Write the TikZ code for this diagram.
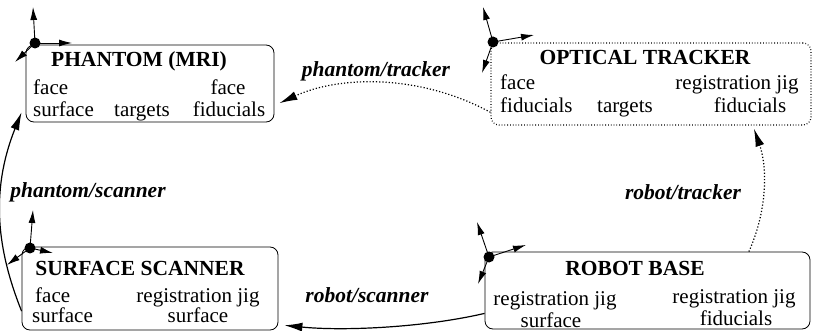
\documentclass[tikz,border=0pt]{standalone}
\usepackage{fontspec}
\setmainfont{Liberation Serif}
\usetikzlibrary{arrows.meta}
\begin{document}
\begin{tikzpicture}[x=1pt,y=-1pt,
  every node/.style={font=\fontsize{21}{24}\selectfont,inner sep=0pt},
  box/.style={draw,line width=0.8pt,rounded corners=8pt},
  txt/.style={anchor=base},
  ttl/.style={font=\fontsize{21.5}{24}\selectfont\bfseries,anchor=base},
  lbl/.style={font=\fontsize{21.5}{24}\selectfont\bfseries\itshape,anchor=base},
  conn/.style={line width=1.2pt,-{Latex[length=18pt,width=9pt]}},
  axis/.style={line width=0.9pt,-{Latex[length=13pt,width=7pt]}},
  org/.style={circle,fill,inner sep=0pt,minimum size=11pt}]
\useasboundingbox (0,0) rectangle (814,331);
% Phantom
\node[box,minimum width=248pt,minimum height=77pt] (ph) at (150,83.5) {};
\node[ttl] (phT) at (139,67) {PHANTOM (MRI)};
\node[txt,anchor=base west] (ph1) at (33,95) {face};
\node[txt,anchor=base west] (ph2) at (33,117) {surface};
\node[txt] (ph3) at (142,117) {targets};
\node[txt] (ph4) at (228,95) {face};
\node[txt] (ph5) at (229,117) {fiducials};
% Optical tracker
\node[box,dotted,line width=1.1pt,minimum width=320pt,minimum height=82pt] (tr) at (651,84) {};
\node[ttl] (trT) at (645,65) {OPTICAL TRACKER};
\node[txt,anchor=base west] (tr1) at (500,90) {face};
\node[txt,anchor=base west] (tr2) at (500,113) {fiducials};
\node[txt] (tr3) at (625,113) {targets};
\node[txt] (tr4) at (737,90) {registration jig};
\node[txt] (tr5) at (750,113) {fiducials};
% Surface scanner
\node[box,minimum width=256pt,minimum height=83pt] (sc) at (150,288.5) {};
\node[ttl] (scT) at (140,275) {SURFACE SCANNER};
\node[txt,anchor=base west] (sc1) at (35,302) {face};
\node[txt,anchor=base west] (sc2) at (32,322) {surface};
\node[txt] (sc3) at (198,302) {registration jig};
\node[txt] (sc4) at (198,322) {surface};
% Robot base
\node[box,minimum width=325pt,minimum height=77pt] (rb) at (647.5,290.5) {};
\node[ttl] (rbT) at (635,275) {ROBOT BASE};
\node[txt] (rb1) at (555,305) {registration jig};
\node[txt] (rb2) at (551,327) {surface};
\node[txt] (rb3) at (734,303) {registration jig};
\node[txt] (rb4) at (736,325) {fiducials};
% Frames
\node[org] (phO) at (35,43) {};
\coordinate (phX) at (72,43);
\coordinate (phY) at (33,7);
\coordinate (phZ) at (15,62);
\node[org] (trO) at (493,42) {};
\coordinate (trX) at (534,35);
\coordinate (trY) at (483,7);
\coordinate (trZ) at (482,73);
\node[org] (scO) at (30,248) {};
\coordinate (scX) at (53,253);
\coordinate (scY) at (33,210);
\coordinate (scZ) at (7,265);
\node[org] (rbO) at (489,257) {};
\coordinate (rbX) at (526,245);
\coordinate (rbY) at (477,222);
\coordinate (rbZ) at (478,284);
\foreach \f in {ph,tr,sc,rb}
  \foreach \a in {X,Y,Z}
    \draw[axis] (\f O.center) -- (\f\a);
% Transforms
\draw[conn,dotted] (tr.190) .. controls +(-70,-38) and +(61,-28) .. ([xshift=5pt]ph.351);
\node[lbl] (ptL) at (376,77) {phantom/tracker};
\draw[conn,dotted] (rb.21) .. controls +(18,-40) and +(14,40) .. ([yshift=-3pt]tr.338);
\node[lbl] (rtL) at (683,200) {robot/tracker};
\draw[conn] (rb.188) .. controls +(-60,14) and +(60,6) .. ([xshift=6pt]sc.344);
\node[lbl] (rsL) at (367,302) {robot/scanner};
\draw[conn] (sc.190) .. controls +(-24,-60) and +(-32,80) .. ([xshift=-4pt]ph.193);
\node[lbl] (psL) at (88,198) {phantom/scanner};
\end{tikzpicture}
\end{document}
